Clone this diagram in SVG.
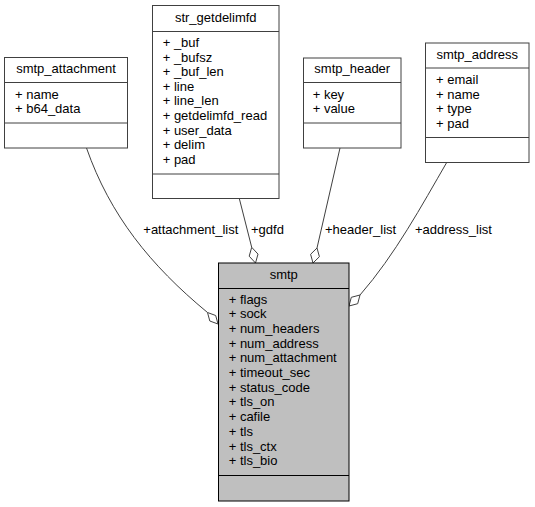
<svg xmlns="http://www.w3.org/2000/svg" width="535" height="507" viewBox="0 0 535 507">
<style>
text{font-family:"Liberation Sans",Arial,Helvetica,sans-serif;font-size:13px;fill:#000}
.t{text-anchor:middle}
.box{fill:#fff;stroke:#404040;stroke-width:1}
.root{fill:#bfbfbf;stroke:#000;stroke-width:1}
.div{stroke:#404040;stroke-width:1}
.rdiv{stroke:#000;stroke-width:1}
.edge{fill:none;stroke:#404040;stroke-width:1}
.dia{fill:#fff;stroke:#404040;stroke-width:1}
</style>
<rect width="535" height="507" fill="#fff"/>
<g id="connectors">
<path class="edge" d="M86.5,148 C110,215 150,265 207.5,312.5"/>
<polygon class="dia" points="218,324 209.8,321 207.5,312.5 215.7,315.5"/>
<text x="143.3" y="234">+attachment_list</text>
<path class="edge" d="M239.3,198.5 L251.7,247.3"/>
<polygon class="dia" points="255.5,263 249.2,256.2 251.7,247.3 258,254.1"/>
<text x="251" y="234.2">+gdfd</text>
<path class="edge" d="M340,148 L317,248"/>
<polygon class="dia" points="313,263 310.6,254.3 317,248 319.4,256.7"/>
<text x="325" y="234.2">+header_list</text>
<path class="edge" d="M446.7,162.5 C422,205 395,255 360,295"/>
<polygon class="dia" points="349,306 351.3,297.3 360,295 357.7,303.7"/>
<text x="415" y="234.2">+address_list</text>
</g>
<g id="smtp_attachment">
<rect class="box" x="4.5" y="57.5" width="123" height="90.5"/>
<line class="div" x1="4.5" y1="82.5" x2="127.5" y2="82.5"/>
<line class="div" x1="4.5" y1="123" x2="127.5" y2="123"/>
<text class="t" x="66" y="73.3">smtp_attachment</text>
<text x="15" y="98.5">+ name</text>
<text x="15" y="113">+ b64_data</text>
</g>
<g id="str_getdelimfd">
<rect class="box" x="152.5" y="5.5" width="126.5" height="193"/>
<line class="div" x1="152.5" y1="31.5" x2="279" y2="31.5"/>
<line class="div" x1="152.5" y1="174" x2="279" y2="174"/>
<text class="t" x="215.75" y="21.5">str_getdelimfd</text>
<text x="162.7" y="47">+ _buf</text>
<text x="162.7" y="61.6">+ _bufsz</text>
<text x="162.7" y="76.2">+ _buf_len</text>
<text x="162.7" y="90.8">+ line</text>
<text x="162.7" y="105.4">+ line_len</text>
<text x="162.7" y="120">+ getdelimfd_read</text>
<text x="162.7" y="134.6">+ user_data</text>
<text x="162.7" y="149.2">+ delim</text>
<text x="162.7" y="163.8">+ pad</text>
</g>
<g id="smtp_header">
<rect class="box" x="303.5" y="58" width="97.5" height="90"/>
<line class="div" x1="303.5" y1="82.5" x2="401" y2="82.5"/>
<line class="div" x1="303.5" y1="123" x2="401" y2="123"/>
<text class="t" x="352.25" y="73.3">smtp_header</text>
<text x="312.7" y="98.5">+ key</text>
<text x="312.7" y="113">+ value</text>
</g>
<g id="smtp_address">
<rect class="box" x="425.5" y="43" width="103.5" height="119.5"/>
<line class="div" x1="425.5" y1="68" x2="529" y2="68"/>
<line class="div" x1="425.5" y1="137.5" x2="529" y2="137.5"/>
<text class="t" x="477.25" y="58.5">smtp_address</text>
<text x="436" y="84">+ email</text>
<text x="436" y="98.6">+ name</text>
<text x="436" y="113.2">+ type</text>
<text x="436" y="127.8">+ pad</text>
</g>
<g id="smtp">
<rect class="root" x="218.5" y="263" width="130.5" height="238"/>
<line class="rdiv" x1="218.5" y1="288.5" x2="349" y2="288.5"/>
<line class="rdiv" x1="218.5" y1="475.5" x2="349" y2="475.5"/>
<text class="t" x="283.75" y="279">smtp</text>
<text x="228.7" y="303.5">+ flags</text>
<text x="228.7" y="318.2">+ sock</text>
<text x="228.7" y="332.9">+ num_headers</text>
<text x="228.7" y="347.6">+ num_address</text>
<text x="228.7" y="362.3">+ num_attachment</text>
<text x="228.7" y="377">+ timeout_sec</text>
<text x="228.7" y="391.7">+ status_code</text>
<text x="228.7" y="406.4">+ tls_on</text>
<text x="228.7" y="421.1">+ cafile</text>
<text x="228.7" y="435.8">+ tls</text>
<text x="228.7" y="450.5">+ tls_ctx</text>
<text x="228.7" y="465.2">+ tls_bio</text>
</g>
</svg>
